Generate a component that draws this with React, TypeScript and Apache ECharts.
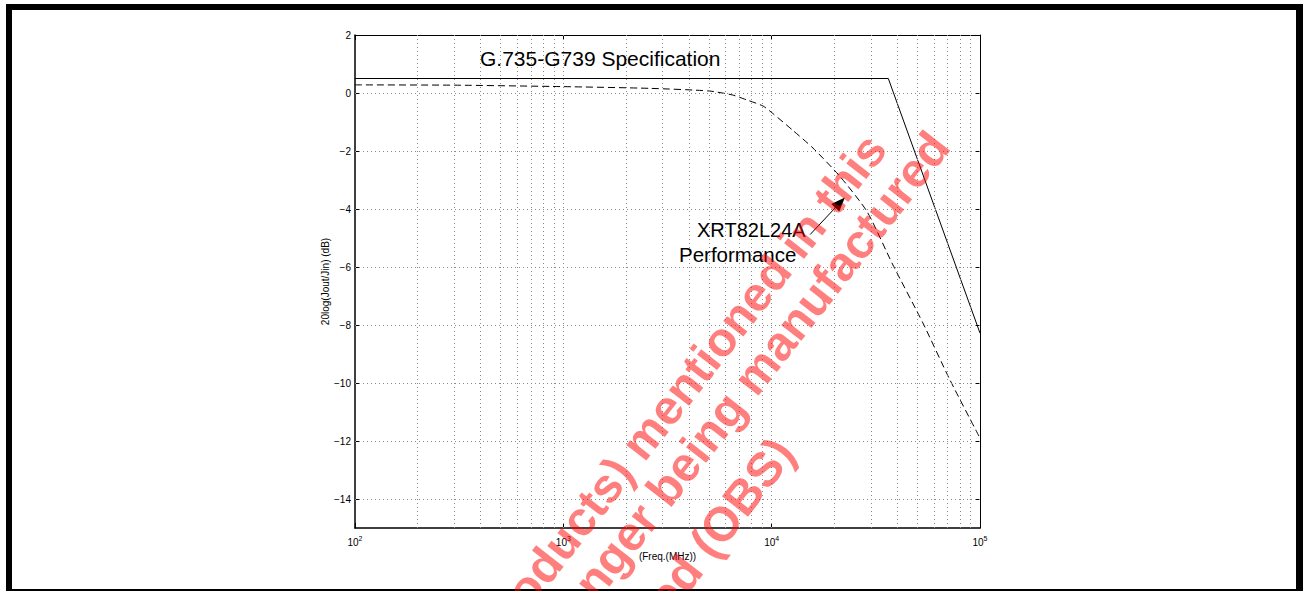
import React, { useEffect, useRef } from "react";
import * as echarts from "echarts";

// ---- data ----
const specFreq = [100, 36300, 100000];
const specGain = [0.5, 0.5, -8.28];

const perfFreq = [100, 300, 1000, 2600, 5000, 6500, 7600, 9100, 10100, 12600, 15800, 21300, 28700, 38200, 53200, 71800, 100000];
const perfGain = [0.28, 0.27, 0.22, 0.16, 0.07, -0.07, -0.24, -0.45, -0.7, -1.28, -1.9, -2.88, -4.09, -5.93, -7.93, -9.9, -11.9];

const yTickValues = [2, 0, -2, -4, -6, -8, -10, -12, -14];
const xGridValues = [
  200, 300, 400, 500, 600, 700, 800, 900, 1000,
  2000, 3000, 4000, 5000, 6000, 7000, 8000, 9000, 10000,
  20000, 30000, 40000, 50000, 60000, 70000, 80000, 90000,
];
const yGridValues = [0, -2, -4, -6, -8, -10, -12, -14];

const titleText = "G.735-G739 Specification";
const annotLine1 = "XRT82L24A";
const annotLine2 = "Performance";
const arrowFrom = [15300, -4.88];
const arrowTo = [21300, -3.78];

const wmLines = [
  "products) mentioned in this",
  "longer being manufactured",
  "obsoleted (OBS)",
];

const FONT = '"Liberation Sans", Arial, Helvetica, sans-serif';

export default function App() {
  const ref = useRef<HTMLDivElement>(null);
  useEffect(() => {
    if (!ref.current) return;
    const chart = echarts.init(ref.current, null, { renderer: "svg" });
    const gridLineStyle = { type: [1, 3], color: "#8a8a8a", width: 1 };
    const fmtY = (v: number) => (v < 0 ? "\u2212" + Math.abs(v) : String(v));
    const rot = (52 * Math.PI) / 180;
    const wmStyle = (text: string) => ({
      text,
      font: `bold 48px ${FONT}`,
      fill: "rgba(255,0,0,0.5)",
      align: "right",
      textAlign: "right",
      verticalAlign: "middle",
      textVerticalAlign: "middle",
    });
    const option: any = {
      animation: false,
      backgroundColor: "#fff",
      grid: { left: 355, right: 324, top: 35, bottom: 63, containLabel: false },
      xAxis: [
        {
          type: "log",
          logBase: 10,
          min: 100,
          max: 100000,
          name: "(Freq.(MHz))",
          nameLocation: "middle",
          nameGap: 20,
          nameTextStyle: { fontFamily: FONT, fontSize: 10, color: "#000" },
          axisLine: { onZero: false, lineStyle: { color: "#000", width: 1.5 } },
          axisTick: { inside: true, length: 5, lineStyle: { color: "#000" } },
          splitLine: { show: false },
          axisLabel: {
            margin: 7,
            formatter: (v: number) => `{b|10}{s|${Math.round(Math.log10(v))}}`,
            rich: {
              b: { fontFamily: FONT, fontSize: 10, color: "#000" },
              s: { fontFamily: FONT, fontSize: 7, color: "#000", padding: [0, 0, 7, 0] },
            },
          },
        },
        {
          type: "log",
          logBase: 10,
          min: 100,
          max: 100000,
          position: "top",
          axisLine: { onZero: false, lineStyle: { color: "#000", width: 1 } },
          axisTick: { inside: true, length: 5, lineStyle: { color: "#000" } },
          axisLabel: { show: false },
          splitLine: { show: false },
        },
      ],
      yAxis: [
        {
          type: "value",
          min: -15,
          max: 2,
          name: "20log(Jout/Jin) (dB)",
          nameLocation: "middle",
          nameGap: 22,
          nameTextStyle: { fontFamily: FONT, fontSize: 10, color: "#000" },
          axisLine: { show: true, onZero: false, lineStyle: { color: "#000", width: 1.5 } },
          axisTick: { show: true, inside: true, length: 5, customValues: yTickValues, lineStyle: { color: "#000" } },
          axisLabel: { customValues: yTickValues, formatter: fmtY, fontFamily: FONT, fontSize: 10, color: "#000", margin: 4 },
          splitLine: { show: false },
        },
        {
          type: "value",
          min: -15,
          max: 2,
          position: "right",
          axisLine: { show: true, onZero: false, lineStyle: { color: "#000", width: 1 } },
          axisTick: { show: true, inside: true, length: 5, customValues: yTickValues, lineStyle: { color: "#000" } },
          axisLabel: { show: false },
          splitLine: { show: false },
        },
      ],
      series: [
        {
          name: "grid",
          type: "line",
          data: [],
          silent: true,
          z: 1,
          markLine: {
            silent: true,
            symbol: "none",
            label: { show: false },
            lineStyle: gridLineStyle,
            emphasis: { disabled: true },
            data: [
              ...xGridValues.map((v) => ({ xAxis: v })),
              ...yGridValues.map((v) => ({ yAxis: v })),
            ],
          },
        },
        {
          name: "spec",
          type: "line",
          showSymbol: false,
          z: 3,
          lineStyle: { color: "#000", width: 1 },
          data: specFreq.map((f, i) => [f, specGain[i]]),
        },
        {
          name: "perf",
          type: "line",
          showSymbol: false,
          smooth: 0.2,
          z: 3,
          lineStyle: { color: "#000", width: 1, type: [7, 4] },
          data: perfFreq.map((f, i) => [f, perfGain[i]]),
          markLine: {
            silent: true,
            symbol: ["none", "triangle"],
            symbolSize: [11, 14],
            label: { show: false },
            lineStyle: { color: "#000", width: 1, type: "solid" },
            data: [[{ coord: arrowFrom }, { coord: arrowTo }]],
          },
        },
      ],
      graphic: [
        { type: "rect", shape: { x: 6, y: 4, width: 1297, height: 6 }, style: { fill: "#000" }, z: 200 },
        { type: "rect", shape: { x: 6, y: 4, width: 6, height: 587 }, style: { fill: "#000" }, z: 200 },
        { type: "rect", shape: { x: 1296, y: 4, width: 7, height: 587 }, style: { fill: "#000" }, z: 200 },
        { type: "rect", shape: { x: 6, y: 589, width: 1297, height: 2 }, style: { fill: "#000" }, z: 200 },
        {
          type: "text",
          x: 480,
          y: 58,
          z: 50,
          style: { text: titleText, font: `21px ${FONT}`, fill: "#000", verticalAlign: "middle", textVerticalAlign: "middle" },
        },
        {
          type: "text",
          x: 697,
          y: 230,
          z: 50,
          style: { text: annotLine1, font: `20px ${FONT}`, fill: "#000", verticalAlign: "middle", textVerticalAlign: "middle" },
        },
        {
          type: "text",
          x: 679,
          y: 254,
          z: 50,
          style: { text: annotLine2, font: `20.5px ${FONT}`, fill: "#000", verticalAlign: "middle", textVerticalAlign: "middle" },
        },
        { type: "text", x: 876, y: 140, rotation: rot, z: 300, style: wmStyle(wmLines[0]) },
        { type: "text", x: 939, y: 138, rotation: rot, z: 300, style: wmStyle(wmLines[1]) },
        { type: "text", x: 784, y: 444, rotation: rot, z: 300, style: wmStyle(wmLines[2]) },
      ],
    };
    chart.setOption(option);
    return () => chart.dispose();
  }, []);
  return (
    <div
      ref={ref}
      style={{ position: "fixed", left: 0, top: 0, width: 1304, height: 591, background: "#fff" }}
    />
  );
}
